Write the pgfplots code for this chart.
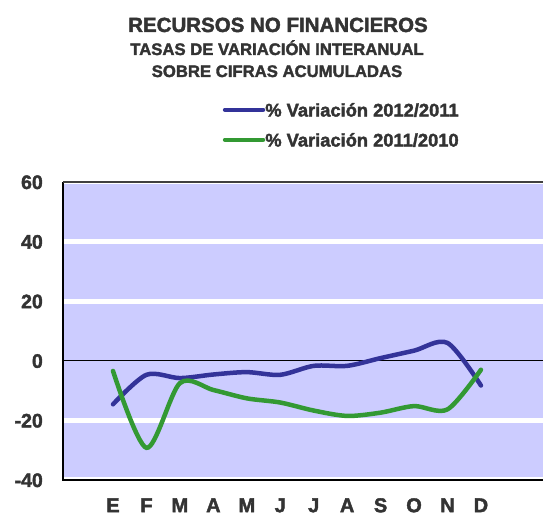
\documentclass[border=0pt]{standalone}
\usepackage{fontspec}
\setmainfont{Liberation Sans}[BoldFeatures={FakeBold=2}]
\usepackage{pgfplots}
\pgfplotsset{compat=1.18}
\definecolor{bgpurple}{HTML}{CCCCFF}
\definecolor{serblue}{HTML}{333399}
\definecolor{sergreen}{HTML}{339933}
\definecolor{txt}{HTML}{333333}
\begin{document}
\begin{tikzpicture}[x=1pt,y=1pt]
\path[use as bounding box] (0,0) rectangle (543,516);
\node[anchor=base, text=txt, font=\bfseries\fontsize{20.5}{20.5}\selectfont, inner sep=0pt] at (278,484) {RECURSOS NO FINANCIEROS};
\node[anchor=base, text=txt, font=\bfseries\fontsize{16.7}{16.7}\selectfont, inner sep=0pt] at (277,461) {TASAS DE VARIACIÓN INTERANUAL};
\node[anchor=base, text=txt, font=\bfseries\fontsize{16.7}{16.7}\selectfont, inner sep=0pt] at (277,439) {SOBRE CIFRAS ACUMULADAS};
\begin{axis}[
  at={(63pt,36pt)}, anchor=south west,
  scale only axis, width=480pt, height=298pt,
  xmin=-1.495, xmax=12.855, ymin=-40, ymax=60,
  axis background/.style={fill=bgpurple},
  axis line style={draw=none},
  xtick={0,...,11},
  xticklabels={E,F,M,A,M,J,J,A,S,O,N,D},
  ytick={-40,-20,20,40,60},
  extra y ticks={0},
  extra y tick style={ymajorgrids=true, major grid style={black, line width=0.8pt}},
  ymajorgrids=true,
  major grid style={white, line width=5pt},
  major tick length=0pt,
  /pgf/number format/assume math mode=true,
  xticklabel style={anchor=north, yshift=-17pt, inner sep=0pt, text height=15pt, text depth=0pt, text=txt, font=\bfseries\fontsize{20}{20}\selectfont},
  yticklabel style={anchor=east, xshift=-20pt, inner sep=0pt, text height=14pt, text depth=0pt, text=txt, font=\bfseries\fontsize{19.5}{19.5}\selectfont},
  legend image code/.code={\draw[#1, line width=4.5pt, line cap=round] (0pt,0pt) -- (38pt,0pt);},
  legend cell align=left,
  legend style={at={(axis description cs:0.333,1.265)}, anchor=north west, draw=none, fill=none,
    inner sep=0pt, outer sep=0pt, row sep=16.5pt, column sep=0pt,
    text=txt, font=\bfseries\fontsize{18.3}{18.3}\selectfont,
    nodes={inner sep=0pt, text height=13.5pt, text depth=0pt}},
  clip=false,
  after end axis/.code={
    \draw[black, line width=1.5pt] (rel axis cs:0,1) -- (rel axis cs:0,0) -- (rel axis cs:1,0);
    \draw[black!75, line width=1.3pt] (rel axis cs:0,1) -- (rel axis cs:1,1);
  },
]
\addplot[serblue, line width=4.5pt, smooth, line cap=round] coordinates {
 (0,-14.6) (1,-4.7) (2,-5.8) (3,-4.6) (4,-3.8) (5,-4.7) (6,-1.7) (7,-1.7) (8,0.9) (9,3.4) (10,6.0) (11,-8.3)};
\addlegendentry{\% Variación 2012/2011}
\addplot[sergreen, line width=4.5pt, smooth, line cap=round] coordinates {
 (0,-3.4) (1,-29.2) (2,-7.5) (3,-9.8) (4,-12.6) (5,-14.0) (6,-16.7) (7,-18.5) (8,-17.4) (9,-15.2) (10,-16.3) (11,-3.0)};
\addlegendentry{\% Variación 2011/2010}
\end{axis}
\end{tikzpicture}
\end{document}
